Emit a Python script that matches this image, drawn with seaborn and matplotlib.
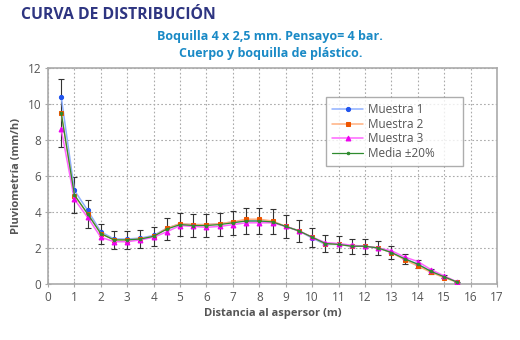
import matplotlib
matplotlib.use("Agg")
import matplotlib.pyplot as plt
import seaborn as sns
import pandas as pd
import numpy as np

dist = [0.5, 1.0, 1.5, 2.0, 2.5, 3.0, 3.5, 4.0, 4.5, 5.0, 5.5, 6.0, 6.5, 7.0, 7.5, 8.0,
        8.5, 9.0, 9.5, 10.0, 10.5, 11.0, 11.5, 12.0, 12.5, 13.0, 13.5, 14.0, 14.5, 15.0, 15.5]
muestra1 = [10.4, 5.2, 4.1, 2.9, 2.5, 2.5, 2.55, 2.7, 3.1, 3.35, 3.3, 3.3, 3.35, 3.45, 3.5, 3.5,
            3.45, 3.2, 2.95, 2.55, 2.2, 2.2, 2.1, 2.1, 2.0, 1.75, 1.4, 1.1, 0.7, 0.4, 0.1]
muestra2 = [9.5, 4.9, 3.9, 2.8, 2.45, 2.45, 2.5, 2.65, 3.1, 3.35, 3.3, 3.3, 3.35, 3.45, 3.6, 3.6,
            3.5, 3.2, 2.95, 2.6, 2.25, 2.2, 2.1, 2.1, 2.0, 1.75, 1.35, 1.0, 0.65, 0.35, 0.1]
muestra3 = [8.6, 4.7, 3.7, 2.6, 2.35, 2.35, 2.45, 2.6, 2.9, 3.25, 3.2, 3.15, 3.2, 3.3, 3.4, 3.4,
            3.4, 3.2, 2.95, 2.6, 2.3, 2.25, 2.15, 2.1, 2.0, 1.85, 1.5, 1.25, 0.8, 0.45, 0.1]
media = [9.5, 4.95, 3.9, 2.8, 2.45, 2.45, 2.5, 2.65, 3.05, 3.3, 3.25, 3.25, 3.3, 3.4, 3.5, 3.5,
         3.45, 3.2, 2.95, 2.6, 2.25, 2.2, 2.1, 2.1, 2.0, 1.75, 1.4, 1.1, 0.7, 0.4, 0.1]
series_names = ["Muestra 1", "Muestra 2", "Muestra 3", "Media ±20%"]

sns.set_style("white")
plt.rcParams['font.family'] = ['Open Sans', 'DejaVu Sans']

fig = plt.figure(figsize=(5.2, 3.4), dpi=100)
ax = fig.add_axes([0.0923, 0.1647, 0.8635, 0.6353])

df = pd.DataFrame({
    "x": dist * 4,
    "y": muestra1 + muestra2 + muestra3 + media,
    "serie": sum([[n] * len(dist) for n in series_names], []),
})

line_cols = {"Muestra 1": "#8fb0ff", "Muestra 2": "#ffb080", "Muestra 3": "#ff66ff", "Media ±20%": "#2e8b2e"}
mark_cols = {"Muestra 1": "#2255ee", "Muestra 2": "#ee5500", "Muestra 3": "#ee00ee", "Media ±20%": "#2e8b2e"}
markers = {"Muestra 1": "o", "Muestra 2": "s", "Muestra 3": "^", "Media ±20%": "o"}
msizes = {"Muestra 1": 3, "Muestra 2": 3.5, "Muestra 3": 3.5, "Media ±20%": 1.8}
lws = {"Muestra 1": 1.1, "Muestra 2": 1.1, "Muestra 3": 1.1, "Media ±20%": 0.9}

err = [v * 0.2 for v in media]
ax.errorbar(dist, media, yerr=err, fmt="none", ecolor="#333333", elinewidth=0.8, capsize=2.2, capthick=0.8, zorder=2)

for n in series_names:
    sub = df[df.serie == n]
    sns.lineplot(data=sub, x="x", y="y", ax=ax, color=line_cols[n], lw=lws[n],
                 marker=markers[n], markersize=msizes[n], markerfacecolor=mark_cols[n],
                 markeredgecolor=mark_cols[n], label=n, zorder=3)

ax.set_xlim(0, 17)
ax.set_ylim(0, 12)
ax.set_xticks(range(0, 18))
ax.set_yticks(range(0, 13, 2))
ax.grid(True, color="#aaaaaa", linestyle=(0, (1.5, 2)), lw=0.8)
for s in ax.spines.values():
    s.set_color("#aaaaaa")
    s.set_linewidth(1.2)
ax.tick_params(axis="both", labelsize=8.5, labelcolor="#555555", color="#aaaaaa", length=4,
               direction="inout", bottom=True, left=True, pad=3)
ax.set_xlabel("Distancia al aspersor (m)", fontsize=8, fontweight="bold", color="#555555", labelpad=3)
ax.set_ylabel("Pluviometría (mm/h)", fontsize=8, fontweight="bold", color="#555555", labelpad=4)

leg = ax.legend(loc="upper right", bbox_to_anchor=(0.619, 0.58, 0.305, 0.286), mode="expand",
                alignment="center", fontsize=8.5, frameon=True,
                fancybox=False, handlelength=2.6, borderpad=0.55, labelspacing=0.12,
                borderaxespad=0, handletextpad=0.4)
leg.get_frame().set_edgecolor("#999999")
leg.get_frame().set_linewidth(1)
for t in leg.get_texts():
    t.set_color("#555555")

fig.text(0.04, 0.955, "CURVA DE DISTRIBUCIÓN", fontsize=11.3, fontweight="bold", color="#2e3581", ha="left", va="center")
fig.text(0.52, 0.893, "Boquilla 4 x 2,5 mm. Pensayo= 4 bar.", fontsize=9, fontweight="bold", color="#1a8ac6", ha="center", va="center")
fig.text(0.52, 0.843, "Cuerpo y boquilla de plástico.", fontsize=9, fontweight="bold", color="#1a8ac6", ha="center", va="center")

fig.savefig("out.png", dpi=100)
